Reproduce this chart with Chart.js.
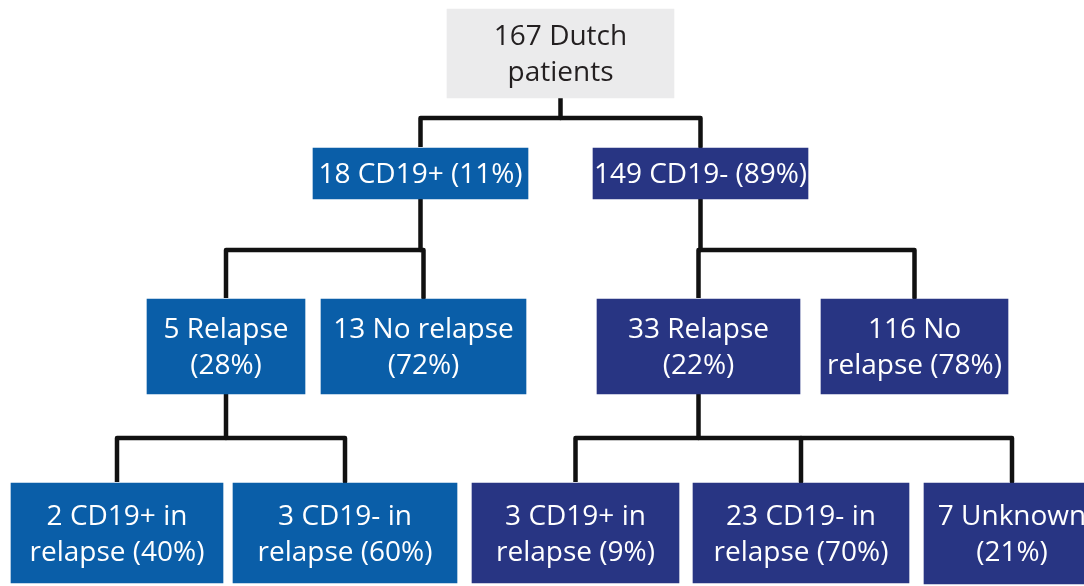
<!DOCTYPE html>
<html>
<head>
<meta charset="utf-8">
<script src="https://cdn.jsdelivr.net/npm/chart.js@4/dist/chart.umd.min.js"></script>
<style>
  html, body { margin: 0; padding: 0; background: #fff; }
  #tree { display: block; }
</style>
</head>
<body>
<canvas id="tree" width="1084" height="586"></canvas>
<script>
// Node texts (one entry per box, lines as drawn) and the tree structure
const nodeText = [
    ["167 Dutch", "patients"],
    ["18 CD19+ (11%)"],
    ["149 CD19- (89%)"],
    ["5 Relapse", "(28%)"],
    ["13 No relapse", "(72%)"],
    ["33 Relapse", "(22%)"],
    ["116 No", "relapse (78%)"],
    ["2 CD19+ in", "relapse (40%)"],
    ["3 CD19- in", "relapse (60%)"],
    ["3 CD19+ in", "relapse (9%)"],
    ["23 CD19- in", "relapse (70%)"],
    ["7 Unknown", "(21%)"]
];
const parentOf = [null, 0, 0, 1, 1, 2, 2, 3, 3, 5, 5, 5];

// Layout: box extents in axis units (x0, x1, y0, y1)
const boxes = [
    [447, 674, 9, 98],
    [313, 528, 148, 199],
    [593, 808, 148, 199],
    [147, 305, 299, 394],
    [321, 526, 299, 394],
    [597, 800, 299, 394],
    [821, 1008, 299, 394],
    [11, 223, 483, 583],
    [233, 457, 483, 583],
    [472, 679, 483, 583],
    [693, 909, 483, 583],
    [924, 1100, 483, 584]
];
const busY = { 0: 118, 1: 250, 2: 250, 3: 438, 5: 438 };

const GRAY = "#ebebec";
const BLUE = "#0a5ea8";
const NAVY = "#283583";

function branchColor(i) {
    if (i === 0) return GRAY;
    let n = i;
    while (parentOf[n] !== 0) n = parentOf[n];
    return n === 1 ? BLUE : NAVY;
}
const cx = b => (b[0] + b[1]) / 2;

// boxes as floating horizontal bars
const boxSets = boxes.map((b, i) => ({
    type: "bar",
    indexAxis: "y",
    grouped: false,
    data: [{ x: [b[0], b[1]], y: (b[2] + b[3]) / 2 }],
    barThickness: b[3] - b[2],
    backgroundColor: branchColor(i),
    borderWidth: 0,
    order: 1
}));

// connectors: one stem per parent plus a bracket over its children
const lineSets = [];
Object.keys(busY).forEach(key => {
    const p = Number(key);
    const y = busY[p];
    const kids = parentOf.map((q, i) => q === p ? i : -1).filter(i => i >= 0);
    const pb = boxes[p];
    lineSets.push([{ x: cx(pb), y: pb[3] }, { x: cx(pb), y: y }]);
    const first = boxes[kids[0]], last = boxes[kids[kids.length - 1]];
    lineSets.push([
        { x: cx(first), y: first[2] - 1 },
        { x: cx(first), y: y },
        { x: cx(last), y: y },
        { x: cx(last), y: last[2] - 1 }
    ]);
    kids.slice(1, -1).forEach(k => {
        lineSets.push([{ x: cx(boxes[k]), y: y }, { x: cx(boxes[k]), y: boxes[k][2] - 1 }]);
    });
});
const connectorSets = lineSets.map(pts => ({
    type: "line",
    data: pts,
    borderColor: "#111",
    borderWidth: 4.5,
    borderJoinStyle: "round",
    pointRadius: 0,
    fill: false,
    tension: 0,
    order: 2
}));

const boxLabels = {
    id: "boxLabels",
    afterDatasetsDraw(chart) {
        const ctx = chart.ctx;
        const xs = chart.scales.x, ys = chart.scales.y;
        ctx.save();
        ctx.font = "28px 'Open Sans'";
        ctx.textAlign = "center";
        ctx.textBaseline = "middle";
        nodeText.forEach((lines, i) => {
            const b = boxes[i];
            const px = xs.getPixelForValue(cx(b));
            const py = ys.getPixelForValue((b[2] + b[3]) / 2) + 2;
            ctx.fillStyle = i === 0 ? "#231f20" : "#ffffff";
            const lh = 36;
            lines.forEach((t, j) => {
                ctx.fillText(t, px, py + (j - (lines.length - 1) / 2) * lh);
            });
        });
        ctx.restore();
    }
};

new Chart(document.getElementById("tree").getContext("2d"), {
    data: { datasets: [...boxSets, ...connectorSets] },
    options: {
        responsive: false,
        animation: false,
        layout: { padding: 0 },
        plugins: { legend: { display: false }, tooltip: { enabled: false } },
        scales: {
            x: { type: "linear", min: 0, max: 1084, offset: false, display: false },
            y: { type: "linear", min: 0, max: 586, offset: false, reverse: true, display: false }
        }
    },
    plugins: [boxLabels]
});
</script>
</body>
</html>
